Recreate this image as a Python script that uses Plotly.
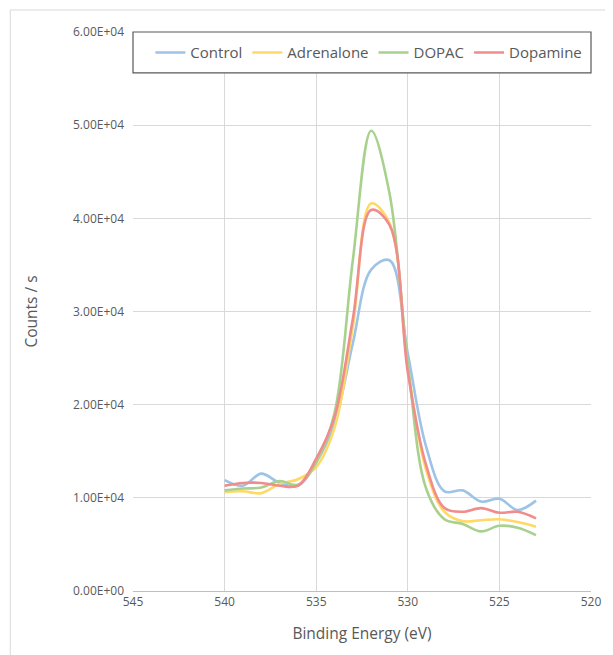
import plotly.graph_objects as go

energy = [540, 539, 538, 537, 536, 535, 534, 533, 532, 531, 530, 529, 528, 527, 526, 525, 524, 523]

control = [1.19e4, 1.13e4, 1.26e4, 1.16e4, 1.13e4, 1.38e4, 1.80e4, 2.66e4, 3.45e4, 3.55e4, 2.55e4, 1.55e4, 1.07e4, 1.08e4, 0.96e4, 0.99e4, 0.87e4, 0.97e4]
adrenalone = [1.06e4, 1.07e4, 1.05e4, 1.15e4, 1.20e4, 1.33e4, 1.75e4, 2.84e4, 4.16e4, 3.95e4, 2.40e4, 1.30e4, 0.85e4, 0.75e4, 0.76e4, 0.77e4, 0.74e4, 0.69e4]
dopac = [1.08e4, 1.10e4, 1.11e4, 1.18e4, 1.14e4, 1.38e4, 1.91e4, 3.55e4, 4.94e4, 4.27e4, 2.45e4, 1.10e4, 0.77e4, 0.72e4, 0.64e4, 0.70e4, 0.68e4, 0.60e4]
dopamine = [1.13e4, 1.16e4, 1.16e4, 1.13e4, 1.13e4, 1.42e4, 1.87e4, 2.92e4, 4.09e4, 3.93e4, 2.35e4, 1.35e4, 0.89e4, 0.85e4, 0.89e4, 0.84e4, 0.85e4, 0.78e4]

series_names = ["Control", "Adrenalone", "DOPAC", "Dopamine"]
series_colors = ["#9DC3E6", "#FFD966", "#A9D18E", "#F08C8C"]

x_ticks = [545, 540, 535, 530, 525, 520]
y_ticks = [0, 1e4, 2e4, 3e4, 4e4, 5e4, 6e4]
y_ticktext = ["0.00E+00", "1.00E+04", "2.00E+04", "3.00E+04", "4.00E+04", "5.00E+04", "6.00E+04"]

font_family = "Open Sans, Noto Sans, sans-serif"
text_color = "#595959"

fig = go.Figure()
for name, vals, col in zip(series_names, [control, adrenalone, dopac, dopamine], series_colors):
    fig.add_trace(go.Scatter(
        x=energy, y=vals, name=name, mode="lines",
        line=dict(color=col, width=2.6, shape="spline", smoothing=1.0),
    ))

fig.update_layout(
    width=605, height=647,
    margin=dict(l=125, r=13, t=24, b=64),
    paper_bgcolor="white", plot_bgcolor="white",
    font=dict(family=font_family, color=text_color),
    showlegend=True,
    legend=dict(
        orientation="h", x=0.515, xanchor="center", y=0.963, yanchor="middle",
        bgcolor="rgba(0,0,0,0)", borderwidth=0,
        font=dict(size=15, color=text_color, family=font_family),
        itemwidth=30, tracegroupgap=0,
    ),
    xaxis=dict(
        range=[545, 520], tickvals=x_ticks, ticks="",
        showgrid=True, gridcolor="#D9D9D9", gridwidth=1,
        showline=True, linecolor="#BFBFBF", linewidth=1,
        zeroline=False,
        tickfont=dict(size=12, color=text_color),
        title=dict(text="Binding Energy (eV)", font=dict(size=15.5, color=text_color), standoff=18),
    ),
    yaxis=dict(
        range=[0, 6e4], tickvals=y_ticks, ticktext=y_ticktext, ticks="",
        showgrid=True, gridcolor="#D9D9D9", gridwidth=1,
        showline=False, zeroline=False,
        tickfont=dict(size=12, color=text_color),
        ticklabelstandoff=8,
        title=dict(text="Counts / s", font=dict(size=15.5, color=text_color), standoff=31),
    ),
    shapes=[
        dict(type="rect", xref="paper", yref="paper", x0=0, x1=1, y0=0.9267, y1=1.0,
             fillcolor="white", line=dict(color="#595959", width=1.2), layer="above"),
        dict(type="rect", xref="paper", yref="paper", x0=-0.268, x1=1.5, y0=-0.5, y1=1.0394,
             fillcolor="rgba(0,0,0,0)", line=dict(color="#D9D9D9", width=1), layer="below"),
    ],
)

fig.write_html("out.html")
